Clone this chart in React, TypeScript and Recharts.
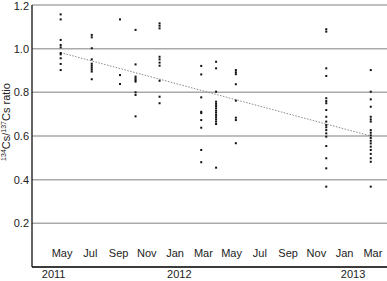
import { ComposedChart, Scatter, XAxis, YAxis, CartesianGrid } from 'recharts'

// x is months after May 2011
const monthTicks = [0, 2, 4, 6, 8, 10, 12, 14, 16, 18, 20, 22]
const monthLabels = ['May', 'Jul', 'Sep', 'Nov', 'Jan', 'Mar', 'May', 'Jul', 'Sep', 'Nov', 'Jan', 'Mar']
const yearTicks = [-0.6, 8.3, 20.6]
const yearLabels = ['2011', '2012', '2013']
const ratioTicks = [0.2, 0.4, 0.6, 0.8, 1.0, 1.2]

const sampleMonths = [-0.1, 2.1, 4.1, 5.2, 6.9, 9.85, 10.9, 12.3, 18.7, 21.85]
const may2011 = [1.157, 1.134, 1.04, 1.017, 1.006, 0.98, 0.974, 0.956, 0.93, 0.902]
const jul2011 = [1.063, 1.052, 1.002, 0.951, 0.931, 0.922, 0.913, 0.904, 0.895, 0.86]
const sep2011 = [1.134, 0.879, 0.838]
const oct2011 = [1.086, 0.928, 0.872, 0.864, 0.856, 0.849, 0.8, 0.788, 0.69]
const dec2011 = [1.116, 1.105, 1.093, 0.963, 0.951, 0.936, 0.922, 0.853, 0.78, 0.75]
const mar2012 = [0.921, 0.882, 0.777, 0.711, 0.705, 0.673, 0.638, 0.536, 0.48]
const apr2012 = [0.94, 0.91, 0.803, 0.757, 0.747, 0.737, 0.727, 0.716, 0.707, 0.696, 0.686, 0.676, 0.666, 0.655, 0.455]
const may2012 = [0.902, 0.892, 0.883, 0.837, 0.762, 0.684, 0.673, 0.567]
const nov2012 = [1.089, 1.078, 0.91, 0.875, 0.773, 0.76, 0.75, 0.719, 0.688, 0.666, 0.65, 0.64, 0.627, 0.612, 0.597, 0.554, 0.498, 0.452, 0.368]
const mar2013 = [0.902, 0.803, 0.768, 0.734, 0.688, 0.676, 0.666, 0.627, 0.615, 0.603, 0.591, 0.578, 0.566, 0.551, 0.536, 0.518, 0.498, 0.482, 0.368]

const trendMonths = [-0.1, 21.85]
const trendRatios = [0.982, 0.6]

const samples = [may2011, jul2011, sep2011, oct2011, dec2011, mar2012, apr2012, may2012, nov2012, mar2013]
const points = samples.flatMap((vals, i) => vals.map((r) => ({ x: sampleMonths[i], r })))
const trend = trendMonths.map((x, i) => ({ x, r: trendRatios[i] }))

const font = '"Liberation Sans", Arial, Helvetica, sans-serif'
const domainX: [number, number] = [-2.13, 23]

const Dot = (props: any) => (
  <rect x={props.cx - 1} y={props.cy - 1} width={2} height={2} fill="#111" />
)

const MonthTick = ({ x, y, payload }: any) => (
  <text x={x} y={y - 12} textAnchor="middle" fontSize={11} fontFamily={font} fill="#222">
    {monthLabels[monthTicks.indexOf(payload.value)]}
  </text>
)

const YearTick = ({ x, y, payload }: any) => (
  <text x={x} y={y + 8} textAnchor="middle" fontSize={11} fontFamily={font} fill="#222">
    {yearLabels[yearTicks.indexOf(payload.value)]}
  </text>
)

const RatioLabel = () => (
  <text transform="translate(10,122) rotate(-90)" textAnchor="middle" fontSize={11} fontFamily={font} fill="#222">
    <tspan fontSize={7} dy={-4}>134</tspan>
    <tspan dy={4}>Cs/</tspan>
    <tspan fontSize={7} dy={-4}>137</tspan>
    <tspan dy={4}>Cs ratio</tspan>
  </text>
)

export default function App() {
  return (
    <div style={{ position: 'absolute', left: 0, top: 0, background: '#fff' }}>
      <ComposedChart width={387} height={281} margin={{ top: 5, right: 0, bottom: 0, left: 0 }}>
        <CartesianGrid vertical={false} stroke="#aaa" strokeWidth={1.5} />
        <XAxis
          xAxisId="m"
          dataKey="x"
          type="number"
          domain={domainX}
          ticks={monthTicks}
          allowDataOverflow
          height={1}
          tickSize={0}
          tickLine={false}
          axisLine={{ stroke: '#111', strokeWidth: 1.3 }}
          tick={<MonthTick />}
          interval={0}
        />
        <XAxis
          xAxisId="yr"
          dataKey="x"
          type="number"
          domain={domainX}
          ticks={yearTicks}
          allowDataOverflow
          height={13}
          tickSize={0}
          tickLine={false}
          axisLine={false}
          tick={<YearTick />}
          interval={0}
        />
        <YAxis
          dataKey="r"
          type="number"
          domain={[0, 1.2]}
          ticks={ratioTicks}
          width={32}
          tickSize={0}
          tickMargin={3}
          tickLine={false}
          axisLine={{ stroke: '#111', strokeWidth: 1.3 }}
          tickFormatter={(v: number) => v.toFixed(1)}
          tick={{ fontSize: 11, fontFamily: font, fill: '#222' }}
          label={{ content: () => <RatioLabel /> }}
        />
        <Scatter
          xAxisId="yr"
          data={trend}
          line={{ stroke: '#888', strokeWidth: 1, strokeDasharray: '1.5 1.5' }}
          shape={() => <g />}
          isAnimationActive={false}
        />
        <Scatter xAxisId="m" data={points} shape={<Dot />} isAnimationActive={false} />
      </ComposedChart>
    </div>
  )
}
